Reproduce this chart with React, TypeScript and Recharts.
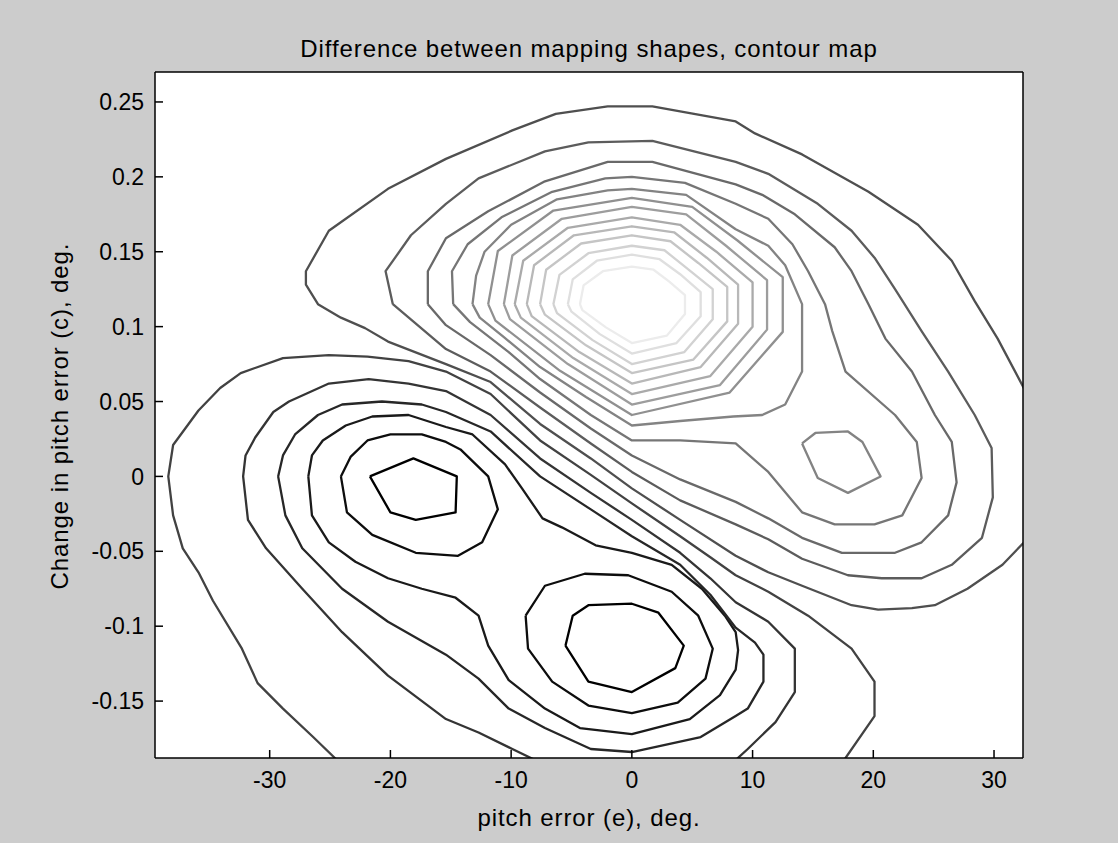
import { LineChart, Line, XAxis, YAxis, CartesianGrid } from "recharts";

type Pt = [number, number];

const FONT = "'Liberation Sans', Arial, Helvetica, sans-serif";

const X_TICKS = [-30, -20, -10, 0, 10, 20, 30];
const Y_TICKS = [-0.15, -0.1, -0.05, 0, 0.05, 0.1, 0.15, 0.2, 0.25];
const X_RANGE: [number, number] = [-39.5, 32.4];
const Y_RANGE: [number, number] = [-0.188, 0.27];

// contour curves, [pitch error e, change in pitch error c]
// lowest level: the two pits
const valleyA1: Pt[] = [[-21.7, 0], [-18.1, 0.012], [-14.5, 0], [-14.6, -0.024], [-17.9, -0.029], [-20.0, -0.024], [-21.7, 0]];
const valleyB1: Pt[] = [[-5.5, -0.113], [-4.9, -0.093], [-3.6, -0.086], [0, -0.085], [2.2, -0.091], [4.3, -0.113], [3.6, -0.128], [0, -0.144], [-3.6, -0.137], [-5.5, -0.113]];
const valleyA2: Pt[] = [[-24.1, 0], [-23.3, 0.013], [-21.9, 0.024], [-20.0, 0.028], [-17.4, 0.028], [-15.4, 0.023], [-14.2, 0.018], [-11.9, 0], [-11.1, -0.022], [-12.4, -0.044], [-14.4, -0.053], [-17.9, -0.051], [-21.5, -0.039], [-23.6, -0.024], [-24.1, 0]];
const valleyB2: Pt[] = [[-8.8, -0.093], [-7.2, -0.073], [-3.9, -0.065], [-0.3, -0.066], [3.3, -0.077], [5.5, -0.093], [6.7, -0.115], [6.1, -0.135], [3.8, -0.151], [0, -0.158], [-3.6, -0.153], [-6.6, -0.137], [-8.6, -0.115], [-8.8, -0.093]];
const level3: Pt[] = [[-26.8, 0], [-26.5, 0.014], [-25.6, 0.024], [-23.7, 0.034], [-21.5, 0.04], [-18.5, 0.041], [-15.4, 0.033], [-13.2, 0.028], [-10.5, 0.008], [-9.1, -0.008], [-7.4, -0.028], [-5.8, -0.034], [-3.0, -0.046], [0, -0.051], [3.3, -0.059], [5.8, -0.075], [7.7, -0.093], [8.6, -0.104], [8.8, -0.116], [8.6, -0.129], [7.3, -0.146], [4.8, -0.162], [0, -0.172], [-4.3, -0.168], [-7.2, -0.155], [-10.2, -0.136], [-11.9, -0.113], [-12.7, -0.093], [-14.6, -0.081], [-17.4, -0.075], [-20.2, -0.068], [-22.9, -0.057], [-25.1, -0.044], [-26.5, -0.026], [-26.8, 0]];
const level4: Pt[] = [[-29.3, 0], [-28.9, 0.014], [-27.9, 0.028], [-26.0, 0.041], [-24.0, 0.048], [-20.7, 0.05], [-17.4, 0.048], [-15.4, 0.043], [-11.7, 0.03], [-7.6, 0], [-3.4, -0.022], [0, -0.04], [4.0, -0.059], [6.5, -0.079], [8.6, -0.101], [10.2, -0.111], [10.9, -0.119], [10.9, -0.137], [9.6, -0.155], [8.6, -0.16], [5.7, -0.174], [0, -0.184], [-3.4, -0.182], [-7.2, -0.168], [-10.2, -0.155], [-12.7, -0.135], [-15.4, -0.119], [-20.2, -0.097], [-24.0, -0.075], [-27.3, -0.048], [-28.7, -0.026], [-29.3, 0]];
const level5: Pt[] = [[-7.6, -0.191], [-9.9, -0.182], [-12.7, -0.171], [-15.4, -0.162], [-20.2, -0.133], [-24.0, -0.104], [-27.3, -0.075], [-30.3, -0.048], [-31.8, -0.029], [-32.2, 0], [-32.0, 0.014], [-31.2, 0.026], [-29.7, 0.043], [-28.4, 0.05], [-25.1, 0.062], [-21.8, 0.065], [-18.5, 0.062], [-15.4, 0.057], [-11.7, 0.041], [-7.6, 0.012], [-3.4, -0.011], [0, -0.029], [4.0, -0.051], [6.5, -0.068], [8.6, -0.084], [11.3, -0.097], [13.5, -0.115], [13.5, -0.144], [11.9, -0.164], [9.6, -0.182], [7.7, -0.196]];
const level6: Pt[] = [[-23.7, -0.196], [-24.6, -0.188], [-26.4, -0.174], [-28.9, -0.155], [-31.0, -0.138], [-32.3, -0.115], [-34.7, -0.083], [-35.9, -0.064], [-37.2, -0.048], [-38.0, -0.026], [-38.4, 0], [-38.0, 0.021], [-35.9, 0.044], [-34.1, 0.059], [-32.4, 0.069], [-28.9, 0.079], [-25.1, 0.081], [-21.9, 0.08], [-18.5, 0.077], [-15.4, 0.07], [-11.7, 0.055], [-7.6, 0.024], [-3.4, 0.001], [0, -0.018], [4.0, -0.04], [6.5, -0.054], [8.6, -0.066], [11.3, -0.077], [14.6, -0.093], [18.2, -0.115], [20.1, -0.137], [20.1, -0.16], [17.7, -0.188], [16.8, -0.196]];
// hill contours, outermost first
const hill1: Pt[] = [[33.2, -0.038], [30.7, -0.059], [27.8, -0.075], [25.1, -0.086], [23.2, -0.088], [20.4, -0.089], [18.2, -0.086], [14.1, -0.073], [11.3, -0.064], [8.6, -0.053], [4.0, -0.029], [0, -0.008], [-3.4, 0.012], [-7.6, 0.035], [-11.7, 0.063], [-15.4, 0.075], [-20.2, 0.09], [-22.1, 0.099], [-24.1, 0.106], [-26.0, 0.115], [-27.0, 0.128], [-27.0, 0.137], [-25.1, 0.164], [-20.2, 0.192], [-15.4, 0.212], [-9.9, 0.231], [-6.3, 0.242], [-2.0, 0.247], [1.7, 0.247], [8.6, 0.237], [10.2, 0.229], [14.1, 0.215], [19.6, 0.19], [23.7, 0.168], [26.5, 0.144], [28.4, 0.117], [30.3, 0.092], [32.6, 0.057], [33.5, 0.045]];
const hill2: Pt[] = [[-19.8, 0.115], [-20.4, 0.137], [-18.3, 0.161], [-15.4, 0.182], [-12.7, 0.199], [-7.2, 0.217], [-3.6, 0.223], [1.7, 0.224], [8.6, 0.21], [11.3, 0.202], [15.4, 0.182], [18.2, 0.164], [20.1, 0.146], [21.8, 0.125], [24.0, 0.097], [26.2, 0.07], [28.4, 0.041], [29.8, 0.019], [29.9, -0.014], [29.0, -0.041], [26.5, -0.059], [24.0, -0.068], [20.7, -0.068], [17.9, -0.066], [14.1, -0.055], [11.3, -0.042], [8.6, -0.032], [4.0, -0.016], [0, 0.003], [-3.4, 0.022], [-7.6, 0.046], [-11.7, 0.07], [-15.4, 0.085], [-19.8, 0.115]];
const hill3: Pt[] = [[-16.9, 0.115], [-16.9, 0.137], [-15.4, 0.159], [-11.9, 0.177], [-7.2, 0.197], [-2.0, 0.21], [1.7, 0.21], [8.6, 0.195], [10.8, 0.188], [13.5, 0.175], [16.8, 0.153], [18.2, 0.137], [19.6, 0.115], [21.0, 0.092], [23.2, 0.07], [25.1, 0.041], [26.5, 0.023], [26.9, -0.004], [26.2, -0.026], [24.0, -0.044], [21.8, -0.051], [17.4, -0.051], [14.1, -0.041], [11.3, -0.028], [8.6, -0.017], [4.0, -0.002], [0, 0.014], [-3.4, 0.032], [-7.6, 0.056], [-11.7, 0.081], [-15.4, 0.101], [-16.9, 0.115]];
const hill4: Pt[] = [[-14.8, 0.115], [-14.9, 0.137], [-13.6, 0.155], [-10.8, 0.173], [-6.6, 0.19], [-2.2, 0.199], [0, 0.2], [4.4, 0.196], [8.6, 0.182], [11.3, 0.172], [13.3, 0.155], [14.6, 0.137], [16.0, 0.115], [16.6, 0.097], [17.7, 0.07], [21.8, 0.041], [23.6, 0.023], [24.0, -0.001], [22.4, -0.026], [20.1, -0.032], [16.8, -0.032], [14.1, -0.024], [11.3, 0.003], [8.6, 0.022], [4.0, 0.024], [0, 0.024], [-3.4, 0.041], [-7.6, 0.065], [-10.2, 0.083], [-13.4, 0.103], [-14.8, 0.115]];
const hill5: Pt[] = [[-13.2, 0.115], [-12.9, 0.134], [-12.2, 0.15], [-10.0, 0.168], [-6.2, 0.185], [-2.0, 0.191], [0, 0.192], [4.5, 0.188], [8.6, 0.165], [11.3, 0.154], [12.7, 0.141], [14.1, 0.115], [14.1, 0.07], [12.7, 0.048], [10.8, 0.041], [8.4, 0.04], [4.0, 0.037], [0, 0.034], [-3.8, 0.053], [-7.6, 0.073], [-10.6, 0.093], [-12.6, 0.106], [-13.2, 0.115]];
const bump5: Pt[] = [[14.1, 0.022], [15.2, 0.029], [17.9, 0.03], [19.1, 0.023], [20.6, 0], [17.9, -0.011], [15.4, -0.001], [14.1, 0.022]];
const hill6: Pt[] = [[-11.9, 0.115], [-11.1, 0.1505], [-6.5, 0.1775], [0, 0.186], [5.0, 0.18], [8.75, 0.1575], [12.5, 0.133], [12.5, 0.0965], [8.1, 0.056], [0, 0.041], [-5.95, 0.0705], [-11.3, 0.104], [-11.9, 0.115]];
const hill7: Pt[] = [[-10.6, 0.115], [-9.9, 0.1475], [-5.8, 0.172], [0, 0.18], [4.5, 0.175], [7.8, 0.154], [11.2, 0.131], [11.2, 0.098], [7.3, 0.061], [0, 0.048], [-5.3, 0.075], [-10.1, 0.105], [-10.6, 0.115]];
const hill8: Pt[] = [[-9.7, 0.115], [-9.0, 0.144], [-5.3, 0.166], [0, 0.173], [4.0, 0.168], [7.0, 0.15], [10.0, 0.1295], [10.0, 0.1], [6.5, 0.067], [0, 0.055], [-4.85, 0.079], [-9.2, 0.106], [-9.7, 0.115]];
const hill9: Pt[] = [[-8.7, 0.115], [-8.1, 0.141], [-4.8, 0.161], [0, 0.167], [3.5, 0.163], [6.2, 0.146], [8.8, 0.128], [8.8, 0.102], [5.7, 0.073], [0, 0.062], [-4.35, 0.083], [-8.3, 0.107], [-8.7, 0.115]];
const hill10: Pt[] = [[-7.6, 0.115], [-7.1, 0.138], [-4.2, 0.1555], [0, 0.161], [3.2, 0.157], [5.5, 0.1425], [7.9, 0.1265], [7.9, 0.1035], [5.1, 0.078], [0, 0.069], [-3.8, 0.0875], [-7.2, 0.108], [-7.6, 0.115]];
const hill11: Pt[] = [[-6.5, 0.115], [-6.0, 0.1345], [-3.6, 0.149], [0, 0.154], [2.7, 0.151], [4.7, 0.138], [6.7, 0.125], [6.7, 0.105], [4.35, 0.083], [0, 0.075], [-3.25, 0.091], [-6.2, 0.109], [-6.5, 0.115]];
const hill12: Pt[] = [[-5.3, 0.115], [-4.9, 0.1315], [-2.9, 0.144], [0, 0.148], [2.3, 0.145], [4.0, 0.135], [5.7, 0.123], [5.7, 0.107], [3.7, 0.089], [0, 0.082], [-2.65, 0.095], [-5.0, 0.11], [-5.3, 0.115]];
const hill13: Pt[] = [[-4.3, 0.115], [-4.0, 0.1275], [-2.4, 0.137], [0, 0.14], [1.8, 0.138], [3.1, 0.13], [4.4, 0.121], [4.4, 0.1085], [2.9, 0.094], [0, 0.089], [-2.15, 0.0995], [-4.1, 0.111], [-4.3, 0.115]];

// gray colormap, one entry per contour level (low = black, high = near white)
const LEVEL_GRAY = [
  "#000000", "#0d0d0d", "#1a1a1a", "#272727", "#343434", "#424242", "#4f4f4f",
  "#5c5c5c", "#696969", "#767676", "#838383", "#909090", "#9d9d9d", "#aaaaaa",
  "#b8b8b8", "#c5c5c5", "#d2d2d2", "#dfdfdf", "#ececec",
];

const CONTOURS: { id: string; pts: Pt[]; level: number }[] = [
  { id: "a1", pts: valleyA1, level: 0 },
  { id: "b1", pts: valleyB1, level: 0 },
  { id: "a2", pts: valleyA2, level: 1 },
  { id: "b2", pts: valleyB2, level: 1 },
  { id: "l3", pts: level3, level: 2 },
  { id: "l4", pts: level4, level: 3 },
  { id: "l5", pts: level5, level: 4 },
  { id: "l6", pts: level6, level: 5 },
  { id: "h1", pts: hill1, level: 6 },
  { id: "h2", pts: hill2, level: 7 },
  { id: "h3", pts: hill3, level: 8 },
  { id: "h4", pts: hill4, level: 9 },
  { id: "h5", pts: hill5, level: 10 },
  { id: "bump", pts: bump5, level: 10 },
  { id: "h6", pts: hill6, level: 11 },
  { id: "h7", pts: hill7, level: 12 },
  { id: "h8", pts: hill8, level: 13 },
  { id: "h9", pts: hill9, level: 14 },
  { id: "h10", pts: hill10, level: 15 },
  { id: "h11", pts: hill11, level: 16 },
  { id: "h12", pts: hill12, level: 17 },
  { id: "h13", pts: hill13, level: 18 },
];

const axisLine = { stroke: "#000", strokeWidth: 1.5 };
const tickLine = { stroke: "#000", strokeWidth: 1.5 };
const tickText = { fill: "#000", fontSize: 23, fontFamily: FONT };
const labelText = { fontSize: 24, letterSpacing: "0.9px" };

export default function App() {
  return (
    <div style={{ position: "absolute", left: 0, top: 0, width: 1118, height: 843, background: "#cccccc", fontFamily: FONT, color: "#000" }}>
      <LineChart width={1118} height={843} margin={{ top: 62, right: 85, bottom: 55, left: 95 }}>
        <CartesianGrid fill="#ffffff" fillOpacity={1} horizontal={false} vertical={false} />
        <XAxis
          dataKey="x" type="number" domain={X_RANGE} allowDataOverflow ticks={X_TICKS}
          height={30} tickSize={-8} tickMargin={22} axisLine={axisLine} tickLine={tickLine} tick={tickText}
        />
        <XAxis
          xAxisId="top" orientation="top" type="number" domain={X_RANGE} allowDataOverflow ticks={X_TICKS}
          height={10} tickSize={-8} axisLine={axisLine} tickLine={tickLine} tick={false}
        />
        <YAxis
          type="number" domain={Y_RANGE} allowDataOverflow ticks={Y_TICKS}
          width={60} tickSize={-8} tickMargin={19} axisLine={axisLine} tickLine={tickLine} tick={tickText}
          tickFormatter={(v: number) => String(v)}
        />
        <YAxis
          yAxisId="right" orientation="right" type="number" domain={Y_RANGE} allowDataOverflow ticks={Y_TICKS}
          width={10} tickSize={-8} axisLine={axisLine} tickLine={tickLine} tick={false}
        />
        {CONTOURS.map((c) => (
          <Line
            key={c.id}
            data={c.pts.map(([x, y]) => ({ x, y }))}
            dataKey="y"
            type="linear"
            stroke={LEVEL_GRAY[c.level]}
            strokeWidth={2.3}
            strokeLinejoin="round"
            dot={false}
            activeDot={false}
            isAnimationActive={false}
          />
        ))}
      </LineChart>

      <div style={{ position: "absolute", left: 155, width: 868, top: 34, lineHeight: "30px", textAlign: "center", ...labelText }}>
        Difference between mapping shapes, contour map
      </div>
      <div style={{ position: "absolute", left: 155, width: 868, top: 803, lineHeight: "30px", textAlign: "center", ...labelText }}>
        pitch error (e), deg.
      </div>
      <div
        style={{
          position: "absolute", left: 60 - 250, top: 416 - 15, width: 500, lineHeight: "30px",
          textAlign: "center", transform: "rotate(-90deg)", ...labelText,
        }}
      >
        Change in pitch error (c), deg.
      </div>
    </div>
  );
}
